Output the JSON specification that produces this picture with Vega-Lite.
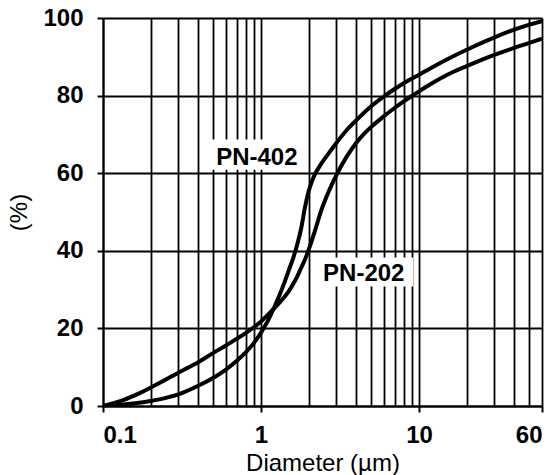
{
  "$schema": "https://vega.github.io/schema/vega-lite/v6.json",
  "width": 439,
  "height": 388,
  "autosize": "none",
  "padding": {"left": 103, "top": 18, "right": 13, "bottom": 69},
  "background": "white",
  "datasets": {
    "curves": [
      {"sample": "PN-402", "d": 0.1, "pct": 0},
      {"sample": "PN-402", "d": 0.13, "pct": 0.3},
      {"sample": "PN-402", "d": 0.16, "pct": 0.7},
      {"sample": "PN-402", "d": 0.2, "pct": 1.3},
      {"sample": "PN-402", "d": 0.25, "pct": 2.1},
      {"sample": "PN-402", "d": 0.3, "pct": 3.0},
      {"sample": "PN-402", "d": 0.4, "pct": 5.2},
      {"sample": "PN-402", "d": 0.5, "pct": 7.3},
      {"sample": "PN-402", "d": 0.6, "pct": 9.4},
      {"sample": "PN-402", "d": 0.7, "pct": 11.6},
      {"sample": "PN-402", "d": 0.8, "pct": 13.8},
      {"sample": "PN-402", "d": 0.9, "pct": 16.2},
      {"sample": "PN-402", "d": 1.0, "pct": 18.9},
      {"sample": "PN-402", "d": 1.1, "pct": 21.8},
      {"sample": "PN-402", "d": 1.2, "pct": 25},
      {"sample": "PN-402", "d": 1.3, "pct": 28.3},
      {"sample": "PN-402", "d": 1.4, "pct": 31.6},
      {"sample": "PN-402", "d": 1.5, "pct": 35},
      {"sample": "PN-402", "d": 1.6, "pct": 38.2},
      {"sample": "PN-402", "d": 1.7, "pct": 41.8},
      {"sample": "PN-402", "d": 1.8, "pct": 46},
      {"sample": "PN-402", "d": 1.9, "pct": 51.3},
      {"sample": "PN-402", "d": 2.0, "pct": 55.3},
      {"sample": "PN-402", "d": 2.1, "pct": 57.9},
      {"sample": "PN-402", "d": 2.2, "pct": 59.8},
      {"sample": "PN-402", "d": 2.4, "pct": 62.4},
      {"sample": "PN-402", "d": 2.7, "pct": 65.3},
      {"sample": "PN-402", "d": 3.0, "pct": 67.8},
      {"sample": "PN-402", "d": 3.5, "pct": 71.2},
      {"sample": "PN-402", "d": 4, "pct": 73.6},
      {"sample": "PN-402", "d": 5, "pct": 77.3},
      {"sample": "PN-402", "d": 6, "pct": 79.8},
      {"sample": "PN-402", "d": 7, "pct": 81.7},
      {"sample": "PN-402", "d": 8, "pct": 83.2},
      {"sample": "PN-402", "d": 10, "pct": 85.4},
      {"sample": "PN-402", "d": 12, "pct": 87.2},
      {"sample": "PN-402", "d": 15, "pct": 89.3},
      {"sample": "PN-402", "d": 20, "pct": 91.8},
      {"sample": "PN-402", "d": 30, "pct": 95},
      {"sample": "PN-402", "d": 40, "pct": 97},
      {"sample": "PN-402", "d": 50, "pct": 98.3},
      {"sample": "PN-402", "d": 60, "pct": 99.2},
      {"sample": "PN-202", "d": 0.1, "pct": 0},
      {"sample": "PN-202", "d": 0.13, "pct": 1.3},
      {"sample": "PN-202", "d": 0.16, "pct": 2.8},
      {"sample": "PN-202", "d": 0.2, "pct": 4.7},
      {"sample": "PN-202", "d": 0.25, "pct": 6.8},
      {"sample": "PN-202", "d": 0.3, "pct": 8.6},
      {"sample": "PN-202", "d": 0.4, "pct": 11.3},
      {"sample": "PN-202", "d": 0.5, "pct": 13.7},
      {"sample": "PN-202", "d": 0.6, "pct": 15.6},
      {"sample": "PN-202", "d": 0.7, "pct": 17.3},
      {"sample": "PN-202", "d": 0.8, "pct": 18.8},
      {"sample": "PN-202", "d": 0.9, "pct": 20.3},
      {"sample": "PN-202", "d": 1.0, "pct": 21.8},
      {"sample": "PN-202", "d": 1.1, "pct": 23.4},
      {"sample": "PN-202", "d": 1.2, "pct": 25},
      {"sample": "PN-202", "d": 1.3, "pct": 26.5},
      {"sample": "PN-202", "d": 1.4, "pct": 28},
      {"sample": "PN-202", "d": 1.5, "pct": 29.6},
      {"sample": "PN-202", "d": 1.6, "pct": 31.5},
      {"sample": "PN-202", "d": 1.7, "pct": 33.5},
      {"sample": "PN-202", "d": 1.8, "pct": 35.7},
      {"sample": "PN-202", "d": 1.9, "pct": 37.8},
      {"sample": "PN-202", "d": 2.0, "pct": 40.2},
      {"sample": "PN-202", "d": 2.2, "pct": 45.3},
      {"sample": "PN-202", "d": 2.4, "pct": 50.3},
      {"sample": "PN-202", "d": 2.6, "pct": 54},
      {"sample": "PN-202", "d": 2.8, "pct": 57},
      {"sample": "PN-202", "d": 3.0, "pct": 59.5},
      {"sample": "PN-202", "d": 3.5, "pct": 64.4},
      {"sample": "PN-202", "d": 4, "pct": 67.8},
      {"sample": "PN-202", "d": 4.5, "pct": 70.2},
      {"sample": "PN-202", "d": 5, "pct": 72},
      {"sample": "PN-202", "d": 6, "pct": 74.7},
      {"sample": "PN-202", "d": 7, "pct": 76.8},
      {"sample": "PN-202", "d": 8, "pct": 78.5},
      {"sample": "PN-202", "d": 9, "pct": 79.9},
      {"sample": "PN-202", "d": 10, "pct": 81.1},
      {"sample": "PN-202", "d": 12, "pct": 83.1},
      {"sample": "PN-202", "d": 15, "pct": 85.3},
      {"sample": "PN-202", "d": 20, "pct": 87.6},
      {"sample": "PN-202", "d": 27, "pct": 89.8},
      {"sample": "PN-202", "d": 30, "pct": 90.5},
      {"sample": "PN-202", "d": 40, "pct": 92.3},
      {"sample": "PN-202", "d": 50, "pct": 93.6},
      {"sample": "PN-202", "d": 60, "pct": 94.7}
    ],
    "labels": [
      {"label": "PN-402", "x0": 0.475, "x1": 1.96, "y0": 60.9, "y1": 68.7, "tx": 0.52, "ty": 62},
      {"label": "PN-202", "x0": 2.35, "x1": 9.2, "y0": 30.8, "y1": 38.3, "tx": 2.47, "ty": 32.1}
    ]
  },
  "layer": [
    {
      "data": {"name": "curves"},
      "mark": {"type": "line", "color": "black", "strokeWidth": 4, "interpolate": "monotone", "clip": true},
      "encoding": {
        "x": {
          "field": "d",
          "type": "quantitative",
          "scale": {"type": "log", "domain": [0.1, 60], "nice": false},
          "axis": {
            "title": "Diameter (µm)",
            "values": [0.1, 0.2, 0.3, 0.4, 0.5, 0.6, 0.7, 0.8, 0.9, 1, 2, 3, 4, 5, 6, 7, 8, 9, 10, 20, 30, 40, 50, 60],
            "labelExpr": "(datum.value == 0.1 || datum.value == 1 || datum.value == 10 || datum.value == 60) ? format(datum.value, '~g') : ''",
            "tickOpacity": {"condition": {"test": "datum.value == 0.1 || datum.value == 1 || datum.value == 10 || datum.value == 60", "value": 1}, "value": 0},
            "labelPadding": 11,
            "titlePadding": 4
          }
        },
        "y": {
          "field": "pct",
          "type": "quantitative",
          "scale": {"domain": [0, 100], "nice": false},
          "axis": {
            "title": "(%)",
            "values": [0, 10, 20, 30, 40, 50, 60, 70, 80, 90, 100],
            "labelExpr": "datum.value % 20 == 0 ? datum.label : ''",
            "labelPadding": 14,
            "titlePadding": 11
          }
        },
        "detail": {"field": "sample", "type": "nominal"}
      }
    },
    {
      "data": {"name": "labels"},
      "mark": {"type": "rect", "color": "white", "opacity": 1},
      "encoding": {
        "x": {"field": "x0", "type": "quantitative"},
        "x2": {"field": "x1"},
        "y": {"field": "y0", "type": "quantitative"},
        "y2": {"field": "y1"}
      }
    },
    {
      "data": {"name": "labels"},
      "mark": {"type": "text", "align": "left", "baseline": "alphabetic", "font": "Liberation Sans", "fontWeight": "bold", "fontSize": 24, "color": "black"},
      "encoding": {
        "x": {"field": "tx", "type": "quantitative"},
        "y": {"field": "ty", "type": "quantitative"},
        "text": {"field": "label"}
      }
    }
  ],
  "config": {
    "view": {"stroke": null},
    "axis": {
      "domainColor": "black",
      "domainWidth": 2,
      "gridColor": "black",
      "gridWidth": 1.8,
      "gridOpacity": 1,
      "tickColor": "black",
      "tickWidth": 2,
      "tickSize": 6,
      "labelFont": "Liberation Sans",
      "labelFontWeight": "bold",
      "labelFontSize": 24,
      "labelColor": "black",
      "labelOverlap": false,
      "titleFont": "Liberation Sans",
      "titleFontSize": 24,
      "titleFontWeight": "normal",
      "titleColor": "black"
    }
  }
}
